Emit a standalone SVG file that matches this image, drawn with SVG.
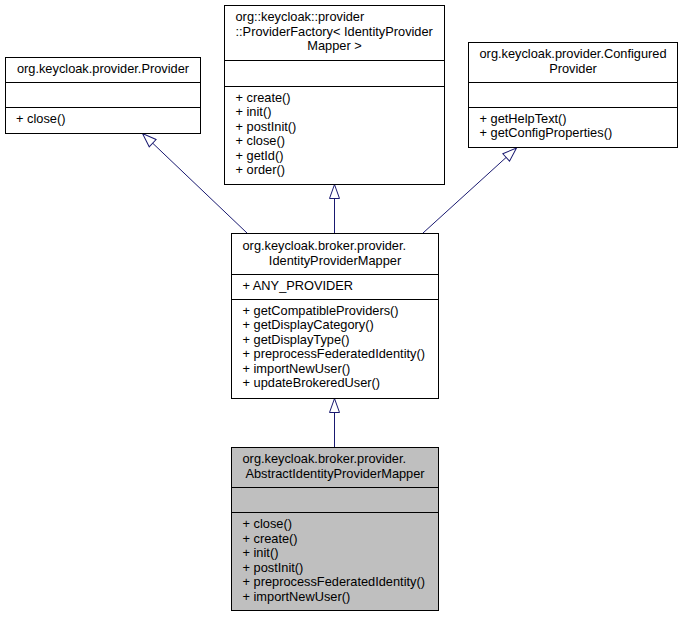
<svg xmlns="http://www.w3.org/2000/svg" width="683" height="617" viewBox="0 0 683 617">
<style>
.box{fill:#ffffff;stroke:#000000;stroke-width:1}
.abs{fill:#bfbfbf;stroke:#000000;stroke-width:1}
.div{stroke:#000000;stroke-width:1}
text{font-family:"Liberation Sans",Arial,sans-serif;font-size:12.8px;fill:#000000}
.c{text-anchor:middle}
.edge{stroke:#191970;stroke-width:1;fill:none;marker-end:url(#tri)}
</style>
<defs>
<marker id="tri" markerUnits="userSpaceOnUse" viewBox="-1 -6 16 12" refX="14" refY="0" markerWidth="16" markerHeight="12" orient="auto">
<path d="M0,-5 L14,0 L0,5 Z" fill="#ffffff" stroke="#191970" stroke-width="1"/>
</marker>
</defs>
<rect width="683" height="617" fill="#ffffff"/>
<g id="connectors">
<line class="edge" x1="334.5" y1="447" x2="334.5" y2="398.5"/>
<line class="edge" x1="247" y1="233" x2="142.5" y2="133.5"/>
<line class="edge" x1="334.5" y1="233" x2="334.5" y2="184.5"/>
<line class="edge" x1="423" y1="233" x2="516.5" y2="148"/>
</g>
<g id="Provider">
<rect class="box" x="5.5" y="57.5" width="195" height="76"/>
<line class="div" x1="5.5" y1="82.5" x2="200.5" y2="82.5"/>
<line class="div" x1="5.5" y1="107.5" x2="200.5" y2="107.5"/>
<text class="c" x="103" y="73">org.keycloak.provider.Provider</text>
<text x="16" y="123">+ close()</text>
</g>
<g id="ProviderFactory">
<rect class="box" x="224.5" y="5.5" width="220" height="179"/>
<line class="div" x1="224.5" y1="60.5" x2="444.5" y2="60.5"/>
<line class="div" x1="224.5" y1="86.5" x2="444.5" y2="86.5"/>
<text x="235.5" y="21">org::keycloak::provider</text>
<text x="235.5" y="35.5">::ProviderFactory&lt; IdentityProvider</text>
<text class="c" x="334.5" y="50">Mapper &gt;</text>
<text x="235.5" y="101.5">+ create()</text>
<text x="235.5" y="116">+ init()</text>
<text x="235.5" y="130.5">+ postInit()</text>
<text x="235.5" y="145">+ close()</text>
<text x="235.5" y="159.5">+ getId()</text>
<text x="235.5" y="174">+ order()</text>
</g>
<g id="ConfiguredProvider">
<rect class="box" x="468.5" y="42.5" width="209" height="105"/>
<line class="div" x1="468.5" y1="82.5" x2="677.5" y2="82.5"/>
<line class="div" x1="468.5" y1="107.5" x2="677.5" y2="107.5"/>
<text x="479.5" y="58">org.keycloak.provider.Configured</text>
<text class="c" x="573" y="72.5">Provider</text>
<text x="479.5" y="122.5">+ getHelpText()</text>
<text x="479.5" y="137">+ getConfigProperties()</text>
</g>
<g id="IdentityProviderMapper">
<rect class="box" x="231.5" y="233.5" width="207" height="165"/>
<line class="div" x1="231.5" y1="274.5" x2="438.5" y2="274.5"/>
<line class="div" x1="231.5" y1="299.5" x2="438.5" y2="299.5"/>
<text x="242.5" y="250">org.keycloak.broker.provider.</text>
<text class="c" x="335" y="264.5">IdentityProviderMapper</text>
<text x="242.5" y="290">+ ANY_PROVIDER</text>
<text x="242.5" y="314.5">+ getCompatibleProviders()</text>
<text x="242.5" y="329">+ getDisplayCategory()</text>
<text x="242.5" y="343.5">+ getDisplayType()</text>
<text x="242.5" y="358">+ preprocessFederatedIdentity()</text>
<text x="242.5" y="372.5">+ importNewUser()</text>
<text x="242.5" y="387">+ updateBrokeredUser()</text>
</g>
<g id="AbstractIdentityProviderMapper">
<rect class="abs" x="231.5" y="447.5" width="207" height="163"/>
<line class="div" x1="231.5" y1="487.5" x2="438.5" y2="487.5"/>
<line class="div" x1="231.5" y1="512.5" x2="438.5" y2="512.5"/>
<text x="242.5" y="463">org.keycloak.broker.provider.</text>
<text class="c" x="335" y="477.5">AbstractIdentityProviderMapper</text>
<text x="242.5" y="528">+ close()</text>
<text x="242.5" y="542.5">+ create()</text>
<text x="242.5" y="557">+ init()</text>
<text x="242.5" y="571.5">+ postInit()</text>
<text x="242.5" y="586">+ preprocessFederatedIdentity()</text>
<text x="242.5" y="600.5">+ importNewUser()</text>
</g>
</svg>
